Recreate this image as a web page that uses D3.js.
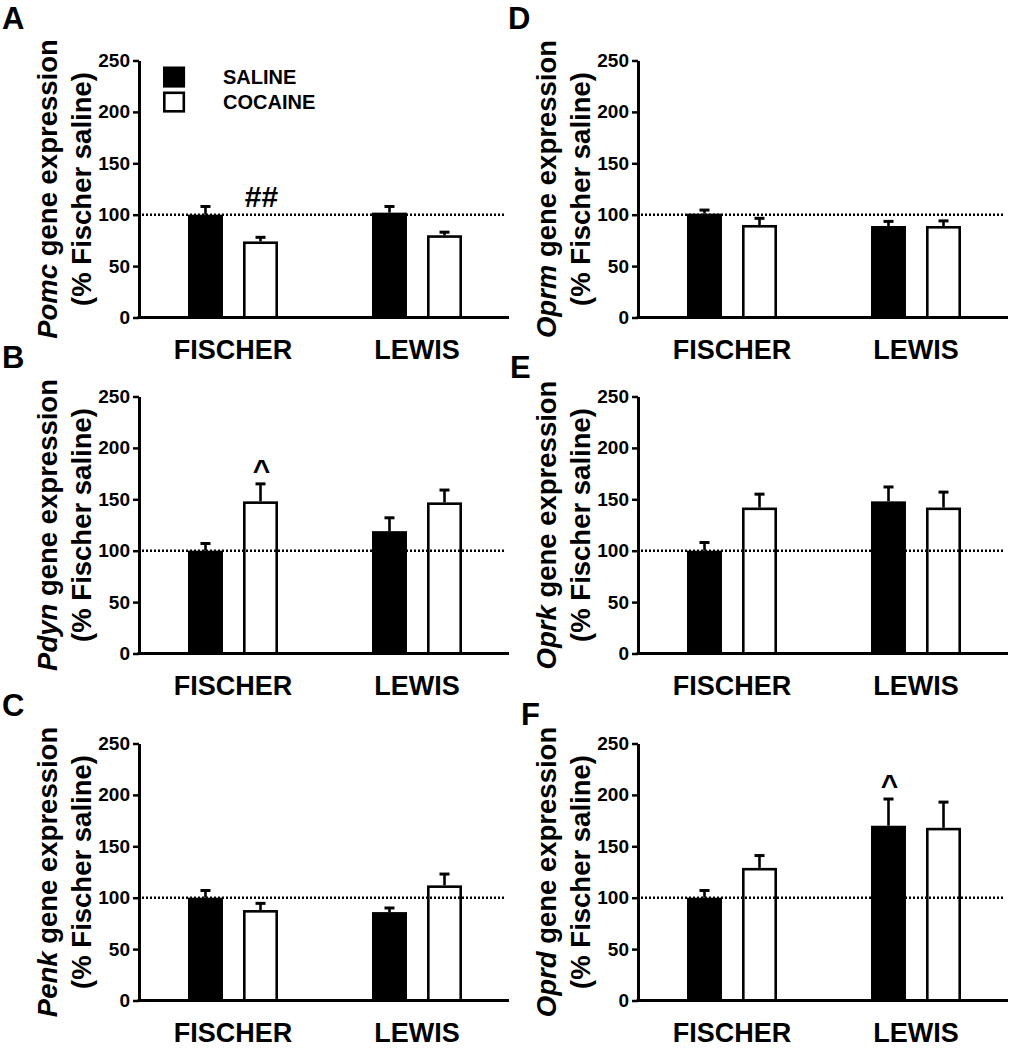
<!DOCTYPE html>
<html>
<head>
<meta charset="utf-8">
<script src="https://cdn.jsdelivr.net/npm/d3@7"></script>
<style>
  html, body { margin: 0; padding: 0; background: #fff; }
  svg { display: block; }
  text { font-family: "Liberation Sans", Arial, sans-serif; font-weight: bold; fill: #000; }
</style>
</head>
<body>
<svg id="chart" width="1012" height="1050"></svg>
<script>
// ---- data ----
const panelLetters = ["A", "B", "C", "D", "E", "F"];
const genes = ["Pomc", "Pdyn", "Penk", "Oprm", "Oprk", "Oprd"];
const strains = ["FISCHER", "LEWIS"];
const treatments = ["SALINE", "COCAINE"];
const yTicks = [0, 50, 100, 150, 200, 250];
// [Fischer, Lewis] per panel, A..F
const salineMean  = [[100, 102], [100, 119], [100, 86], [101, 89], [100, 148], [100, 170]];
const salineSEM   = [[8, 6],     [7, 13],    [7, 4],    [3.5, 4.5], [8, 14],   [7, 26]];
const cocaineMean = [[74, 80],   [148, 147], [88, 112], [90, 89],  [142, 142], [129, 168]];
const cocaineSEM  = [[4, 3],     [17, 12],   [6.5, 11], [6.5, 5],  [13, 15],   [12, 25]];
const baselineValue = 100;
const annotPanel = [0, 1, 5];
const annotStrain = ["FISCHER", "FISCHER", "LEWIS"];
const annotTreatment = ["COCAINE", "COCAINE", "SALINE"];
const annotText = ["##", "^", "^"];

// ---- layout ----
const svg = d3.select("#chart");
const colX = [139, 638];           // y-axis x position per column
const rowTop = [60.5, 396.5, 743.5]; // y of 250 per row
const plotH = 257;
const plotW = 370;
const letterPos = [[2, 29], [2, 368], [2, 716], [508, 29], [510, 378], [521, 725]];

const y = d3.scaleLinear().domain([0, 250]).range([plotH, 0]);
const xStrain = d3.scalePoint().domain(strains).range([94, 278]);
const xTreat = d3.scaleBand().domain(treatments).range([-45, 45]).paddingInner(0.364);
const fillOf = d3.scaleOrdinal().domain(treatments).range(["#000", "#fff"]);
const sw = 2.6;

panelLetters.forEach((letter, i) => {
  const col = Math.floor(i / 3), row = i % 3;
  const g = svg.append("g").attr("transform", `translate(${colX[col]},${rowTop[row]})`);

  // panel letter
  svg.append("text").attr("x", letterPos[i][0]).attr("y", letterPos[i][1])
    .style("font-size", "31px").text(letter);

  // bars data
  const rows = [];
  strains.forEach((s, si) => {
    rows.push({ strain: s, treat: "SALINE", mean: salineMean[i][si], sem: salineSEM[i][si] });
    rows.push({ strain: s, treat: "COCAINE", mean: cocaineMean[i][si], sem: cocaineSEM[i][si] });
  });

  const bw = xTreat.bandwidth();
  const bx = d => xStrain(d.strain) + xTreat(d.treat);

  // error bars
  g.selectAll(".err").data(rows).join("line")
    .attr("x1", d => bx(d) + bw / 2).attr("x2", d => bx(d) + bw / 2)
    .attr("y1", d => y(d.mean)).attr("y2", d => y(d.mean + d.sem))
    .attr("stroke", "#000").attr("stroke-width", 2.6);
  g.selectAll(".cap").data(rows).join("line")
    .attr("x1", d => bx(d) + bw / 2 - 5).attr("x2", d => bx(d) + bw / 2 + 5)
    .attr("y1", d => y(d.mean + d.sem)).attr("y2", d => y(d.mean + d.sem))
    .attr("stroke", "#000").attr("stroke-width", 3);

  // bars
  g.selectAll(".bar").data(rows).join("rect")
    .attr("x", d => bx(d) + sw / 2)
    .attr("width", bw - sw)
    .attr("y", d => y(d.mean) + sw / 2)
    .attr("height", d => y(0) - y(d.mean) - sw / 2)
    .attr("fill", d => fillOf(d.treat))
    .attr("stroke", "#000").attr("stroke-width", sw);

  // dotted baseline
  g.append("line").attr("x1", 3).attr("x2", 365)
    .attr("y1", y(baselineValue)).attr("y2", y(baselineValue))
    .attr("stroke", "#000").attr("stroke-width", 2.4).attr("stroke-dasharray", "2,2");

  // y axis
  const ax = g.append("g").call(d3.axisLeft(y).tickValues(yTicks).tickSize(6).tickSizeOuter(0).tickPadding(3));
  ax.attr("font-size", null).attr("font-family", null);
  ax.select(".domain").attr("stroke-width", 3);
  ax.selectAll(".tick line").attr("stroke-width", 2.5);
  ax.selectAll(".tick text").attr("font-size", 19).style("font-size", "19px")
    .style("font-family", '"Liberation Sans", Arial, sans-serif').style("font-weight", "bold");

  // x axis line
  g.append("line").attr("x1", -1.5).attr("x2", plotW).attr("y1", y(0)).attr("y2", y(0))
    .attr("stroke", "#000").attr("stroke-width", 3);

  // category labels
  g.selectAll(".cat").data(strains).join("text")
    .attr("x", d => xStrain(d)).attr("y", y(0) + 41)
    .attr("text-anchor", "middle").style("font-size", "27px").text(d => d);

  // y title
  const yc = plotH / 2;
  const t1 = g.append("text").attr("transform", `translate(-82,${yc}) rotate(-90)`)
    .attr("text-anchor", "middle").style("font-size", "27.5px");
  t1.append("tspan").style("font-style", "italic").text(genes[i]);
  t1.append("tspan").text(" gene expression");
  g.append("text").attr("transform", `translate(-48,${yc}) rotate(-90)`)
    .attr("text-anchor", "middle").style("font-size", "27.5px").text("(% Fischer saline)");

  // annotations
  annotPanel.forEach((p, k) => {
    if (p !== i) return;
    const d = rows.find(r => r.strain === annotStrain[k] && r.treat === annotTreatment[k]);
    const isHash = annotText[k] === "##";
    g.append("text")
      .attr("x", bx(d) + bw / 2 + 1)
      .attr("y", isHash ? y(d.mean + d.sem) - 30 : y(d.mean + d.sem) - 4)
      .attr("text-anchor", "middle")
      .style("font-size", "30px")
      .text(annotText[k]);
  });

  // legend (panel A only)
  if (i === 0) {
    const lg = g.append("g").attr("transform", "translate(24,6)");
    treatments.forEach((t, k) => {
      lg.append("rect").attr("x", 1.3).attr("y", k * 25 + 1.3).attr("width", 19.5).attr("height", 18.5)
        .attr("fill", fillOf(t)).attr("stroke", "#000").attr("stroke-width", 2.6);
      lg.append("text").attr("x", 60).attr("y", k * 25 + 17.5).style("font-size", "20px").text(t);
    });
  }
});
</script>
</body>
</html>
